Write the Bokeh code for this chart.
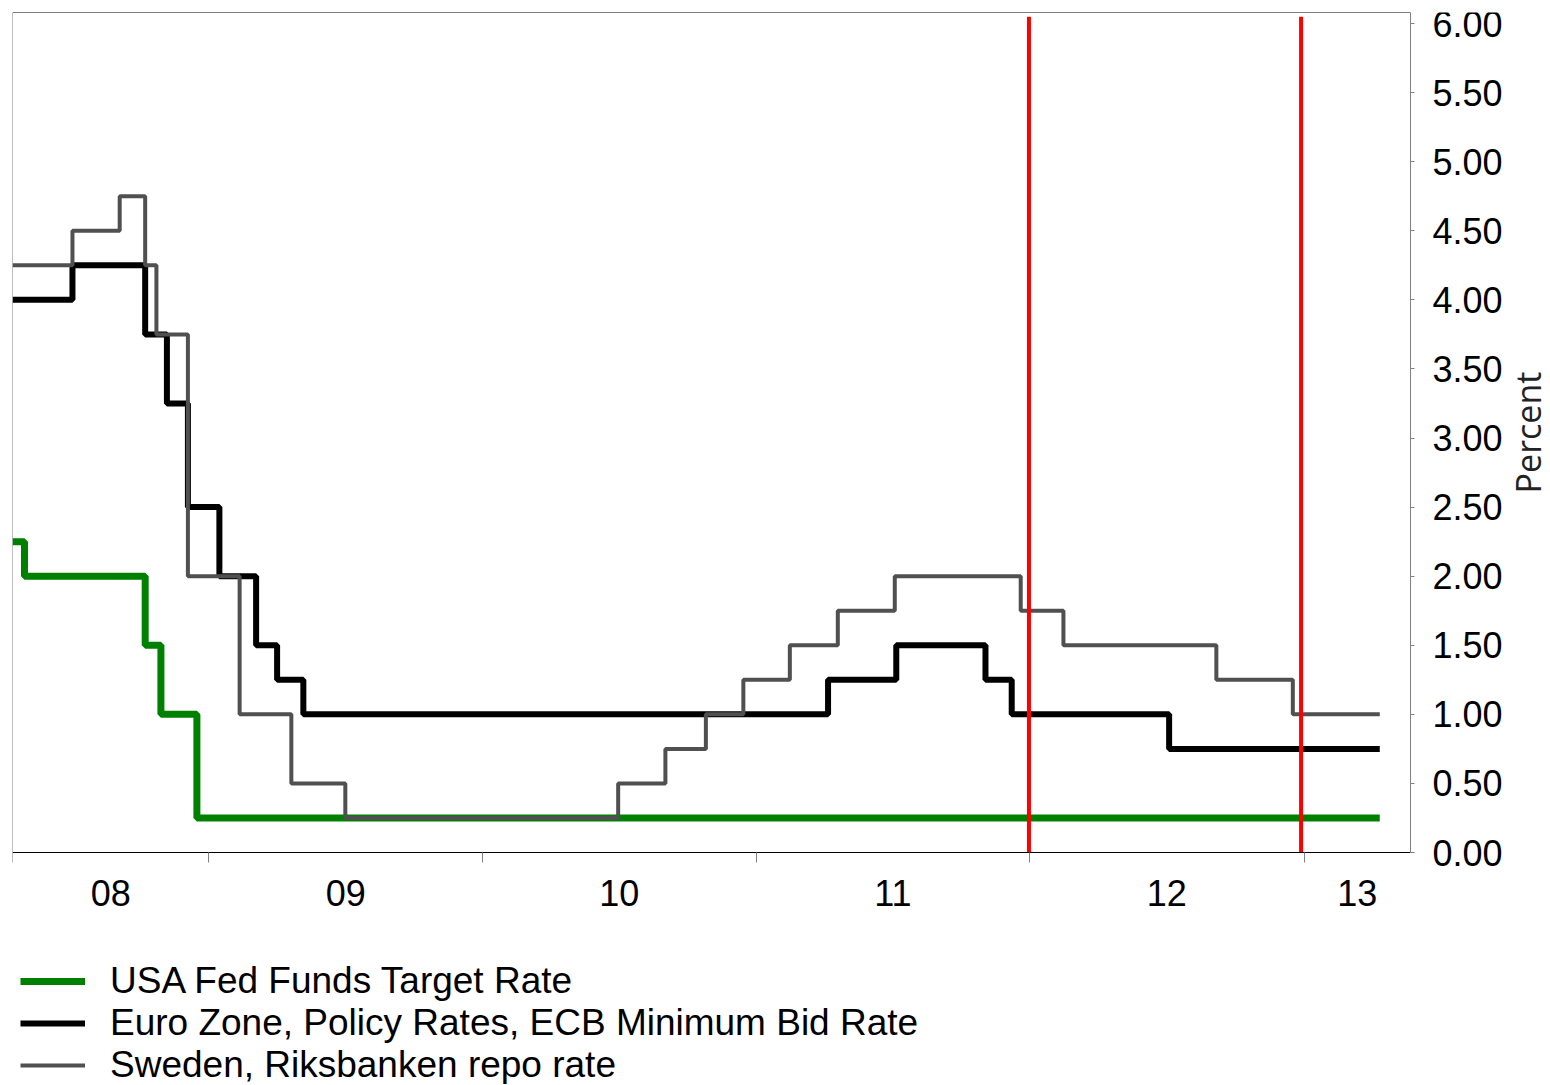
import math
import pandas as pd
from bokeh.plotting import figure
from bokeh.models import (Range1d, FixedTicker, NumeralTickFormatter,
                          CustomJSTickFormatter, Legend, LegendItem, Label,
                          LinearAxis)
from bokeh.embed import file_html
from bokeh.resources import INLINE

# ---- data ----
X_START = "2008-04-14"
X_END = "2013-05-23"
DATA_END = "2013-04-12"

fed_dates = ["2008-04-14", "2008-04-30", "2008-10-08", "2008-10-29", "2008-12-16"]
fed_rates = [2.25, 2.00, 1.50, 1.00, 0.25]

ecb_dates = ["2008-04-14", "2008-07-03", "2008-10-08", "2008-11-06", "2008-12-04",
             "2009-01-15", "2009-03-05", "2009-04-02", "2009-05-07", "2011-04-07",
             "2011-07-07", "2011-11-03", "2011-12-08", "2012-07-05"]
ecb_rates = [4.00, 4.25, 3.75, 3.25, 2.50, 2.00, 1.50, 1.25, 1.00, 1.25,
             1.50, 1.25, 1.00, 0.75]

rik_dates = ["2008-04-14", "2008-07-03", "2008-09-04", "2008-10-08", "2008-10-23",
             "2008-12-04", "2009-02-11", "2009-04-21", "2009-07-02", "2010-07-01",
             "2010-09-02", "2010-10-26", "2010-12-15", "2011-02-15", "2011-04-20",
             "2011-07-05", "2011-12-20", "2012-02-15", "2012-09-06", "2012-12-17"]
rik_rates = [4.25, 4.50, 4.75, 4.25, 3.75, 2.00, 1.00, 0.50, 0.25, 0.50,
             0.75, 1.00, 1.25, 1.50, 1.75, 2.00, 1.75, 1.50, 1.25, 1.00]

red_line_dates = ["2011-12-31", "2012-12-28"]

year_boundaries = ["2009-01-01", "2010-01-01", "2011-01-01", "2012-01-01", "2013-01-01"]
y_ticks = [0.0, 0.5, 1.0, 1.5, 2.0, 2.5, 3.0, 3.5, 4.0, 4.5, 5.0, 5.5, 6.0]
Y_MIN, Y_MAX = 0.0, 6.08

series_labels = ["USA Fed Funds Target Rate",
                 "Euro Zone, Policy Rates, ECB Minimum Bid Rate",
                 "Sweden, Riksbanken repo rate"]
y_axis_title = "Percent"


def ms(d):
    return pd.Timestamp(d).value / 1e6


def extend(dates, rates):
    return (pd.to_datetime(dates + [DATA_END]), rates + [rates[-1]])


# ---- layout: one frame that also holds the legend and the right-hand axis ----
PLOT_W, PLOT_H = 1398, 840          # the chart area proper
FRAME_W, FRAME_H = 1538, 1072       # whole drawing frame
x0_ms, x1_ms = ms(X_START), ms(X_END)
x_end_ms = x0_ms + (x1_ms - x0_ms) * FRAME_W / PLOT_W
px_per_unit = PLOT_H / (Y_MAX - Y_MIN)
y_bottom = Y_MIN - (FRAME_H - PLOT_H) / px_per_unit

bounds = [X_START] + year_boundaries + [X_END]
bounds_ms = [ms(b) for b in bounds]
mids_ms = [(bounds_ms[i] + bounds_ms[i + 1]) / 2 for i in range(len(bounds_ms) - 1)]

FONT = "Liberation Sans"

p = figure(x_axis_type="datetime", y_axis_location="right",
           frame_width=FRAME_W, frame_height=FRAME_H,
           x_range=Range1d(x0_ms, x_end_ms), y_range=Range1d(y_bottom, Y_MAX),
           output_backend="svg", toolbar_location=None,
           min_border_left=12, min_border_top=12, min_border_right=0,
           min_border_bottom=0)

p.xgrid.visible = False
p.ygrid.visible = False
p.outline_line_color = None

# x axis at y = 0
xa = p.xaxis[0]
xa.fixed_location = 0
xa.bounds = (x0_ms, x1_ms)
xa.ticker = FixedTicker(ticks=mids_ms, minor_ticks=[bounds_ms[0]] + bounds_ms[1:-1])
xa.formatter = CustomJSTickFormatter(code="""
    const d = new Date(tick);
    const y = d.getUTCFullYear() % 100;
    return (y < 10 ? '0' : '') + y;
""")
xa.major_tick_out = 0
xa.major_tick_in = 0
xa.minor_tick_out = 10
xa.minor_tick_in = 0
xa.minor_tick_line_color = "#808080"
xa.axis_line_color = "#000000"
xa.major_label_text_font = FONT
xa.major_label_text_font_size = "36px"
xa.major_label_text_color = "#000000"
xa.major_label_standoff = 17

# y axis at the right end of the chart
ya = p.yaxis[0]
ya.fixed_location = x1_ms
ya.bounds = (Y_MIN, Y_MAX)
ya.ticker = FixedTicker(ticks=y_ticks, minor_ticks=[])
ya.formatter = NumeralTickFormatter(format="0.00")
ya.major_tick_out = 4
ya.major_tick_in = 0
ya.axis_line_color = "#808080"
ya.major_tick_line_color = "#808080"
ya.major_label_text_font = FONT
ya.major_label_text_font_size = "36px"
ya.major_label_text_color = "#000000"
ya.major_label_standoff = 18

# top and left border lines of the chart area
top_ax = LinearAxis(fixed_location=Y_MAX, bounds=(x0_ms, x1_ms),
                    ticker=FixedTicker(ticks=[], minor_ticks=[]),
                    axis_line_color="#000000", axis_line_width=1)
left_ax = LinearAxis(fixed_location=x0_ms, bounds=(Y_MIN, Y_MAX),
                     ticker=FixedTicker(ticks=[], minor_ticks=[]),
                     axis_line_color="#808080", axis_line_width=1)
p.add_layout(top_ax, "above")
p.add_layout(left_ax, "left")

# y-axis title, reading bottom-to-top
p.add_layout(Label(x=1515, y=FRAME_H - 420, x_units="screen", y_units="screen",
                   text=y_axis_title, angle=math.pi / 2,
                   text_align="center", text_baseline="middle",
                   text_font="Open Sans", text_font_size="34px",
                   text_color="#222222"))

# series
fx, fy = extend(fed_dates, fed_rates)
ex, ey = extend(ecb_dates, ecb_rates)
rx, ry = extend(rik_dates, rik_rates)

r_fed = p.step(fx, fy, mode="after", line_color="#008000", line_width=7)
r_ecb = p.step(ex, ey, mode="after", line_color="#000000", line_width=6)
r_rik = p.step(rx, ry, mode="after", line_color="#505050", line_width=4)

red_x = pd.to_datetime(red_line_dates)
p.segment(x0=red_x, y0=[0, 0], x1=red_x, y1=[6.05, 6.05],
          line_color="#ff0000", line_width=4)

legend = Legend(items=[LegendItem(label=series_labels[0], renderers=[r_fed]),
                       LegendItem(label=series_labels[1], renderers=[r_ecb]),
                       LegendItem(label=series_labels[2], renderers=[r_rik])],
                location=(8, -2), orientation="vertical")
legend.glyph_width = 65
legend.glyph_height = 42
legend.label_height = 42
legend.spacing = 0
legend.padding = 0
legend.margin = 0
legend.label_standoff = 25
legend.label_text_font = FONT
legend.label_text_font_size = "37px"
legend.label_text_color = "#000000"
legend.border_line_color = None
legend.background_fill_alpha = 0
p.add_layout(legend, "center")

open("out.html", "w").write(file_html(p, INLINE))
